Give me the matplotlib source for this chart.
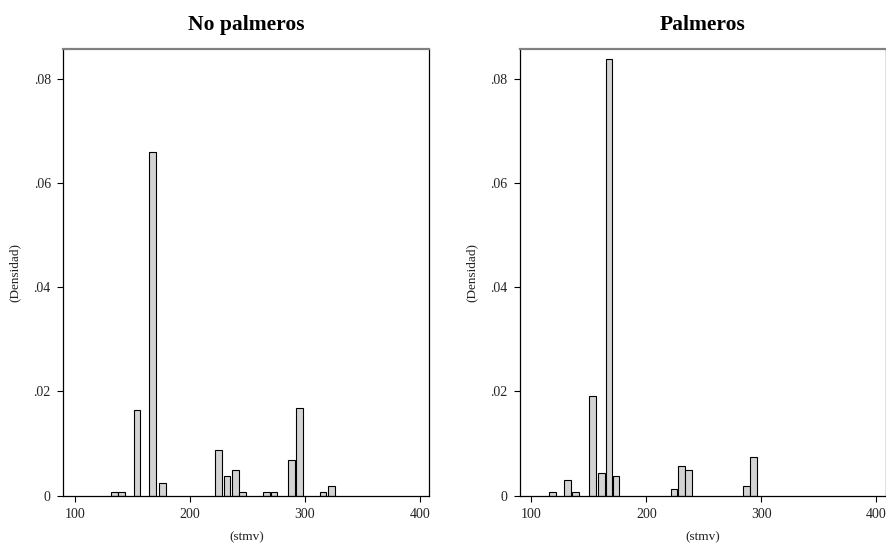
import matplotlib

matplotlib.use("Agg")
import matplotlib.pyplot as plt

plt.rcParams["font.family"] = ["Liberation Serif", "DejaVu Serif"]

TITLES = ["No palmeros", "Palmeros"]
X_LABEL = "(stmv)"
Y_LABEL = "(Densidad)"

# bar centres (stmv) and densities
no_palm_x = [134.3, 140.4, 153.9, 167.5, 176.3, 224.8, 232.3, 239.4, 245.9,
             266.8, 273.1, 288.2, 295.4, 315.8, 323.0]
no_palm_y = [0.0007, 0.0007, 0.0164, 0.0659, 0.0025, 0.0088, 0.0038, 0.0050,
             0.0007, 0.0007, 0.0007, 0.0068, 0.0168, 0.0007, 0.0019]

palm_x = [118.5, 131.5, 138.6, 153.3, 160.9, 167.5, 173.5, 224.0, 230.7,
          236.9, 287.5, 293.6]
palm_y = [0.0007, 0.0031, 0.0007, 0.0191, 0.0044, 0.0837, 0.0038, 0.0013,
          0.0056, 0.0049, 0.0018, 0.0074]

x_ticks = [100, 200, 300, 400]
y_ticks = [0, 0.02, 0.04, 0.06, 0.08]
y_tick_labels = ["0", ".02", ".04", ".06", ".08"]

BAR_WIDTH = 5.8
BAR_COLOR = "#d3d3d3"


def draw_panel(ax, xs, ys, title):
    ax.bar(xs, ys, width=BAR_WIDTH, color=BAR_COLOR, edgecolor="black",
           linewidth=0.8)
    ax.set_xlim(89.8, 408.4)
    ax.set_ylim(0, 0.0856)
    ax.set_xticks(x_ticks)
    ax.set_yticks(y_ticks)
    ax.set_yticklabels(y_tick_labels)
    ax.tick_params(axis="both", labelsize=10, length=4, width=0.8,
                   colors="black", pad=5, labelcolor="#222222")
    ax.set_title(title, fontsize=15.5, fontweight="bold", pad=14)
    ax.set_xlabel(X_LABEL, fontsize=9.5, labelpad=7, color="#222222")
    ax.set_ylabel(Y_LABEL, fontsize=9.5, labelpad=9, color="#222222")
    for side in ["left", "right", "bottom"]:
        ax.spines[side].set_color("black")
        ax.spines[side].set_linewidth(0.9)
    ax.spines["top"].set_color("#808080")
    ax.spines["top"].set_linewidth(1.6)


fig = plt.figure(figsize=(8.87, 5.45), dpi=100)
ax1 = fig.add_axes([0.0714, 0.0905, 0.4126, 0.819])
ax2 = fig.add_axes([0.5859, 0.0905, 0.4126, 0.819])

draw_panel(ax1, no_palm_x, no_palm_y, TITLES[0])
draw_panel(ax2, palm_x, palm_y, TITLES[1])

fig.savefig("out.png", dpi=100)
